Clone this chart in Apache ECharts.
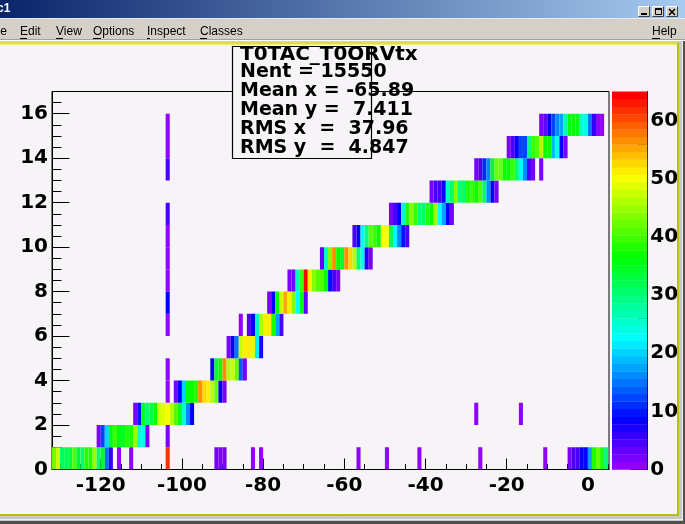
<!DOCTYPE html>
<html>
<head>
<meta charset="utf-8">
<script src="https://cdn.jsdelivr.net/npm/echarts/dist/echarts.min.js"></script>
<style>
html,body{margin:0;padding:0;background:#f7f4f7;}
#chart{width:685px;height:524px;}
</style>
</head>
<body>
<div id="chart"></div>
<script>
// ---------- DATA (bin contents, 1-unit bins) ----------
// staircase rows: first bin (x lower edge) and contents of consecutive bins
const rowStart = [-132, -121, -112, -102, -93, -89, -84, -79, -74, -66, -58, -49, -39, -28, -20, -12];
const row0  = [42, 47, 32, 32, 33, 41, 35, 31, 38, 38, 45, 31, 35, 15, 6];
const row1  = [2, 12, 20, 36, 39, 36, 34, 38, 38, 45, 25, 24, 2];
const row2  = [2, 10, 35, 31, 33, 37, 47, 49, 50, 46, 41, 35, 25, 16, 8];
const row3  = [2, 8, 20, 36, 37, 38, 57, 52, 51, 46, 42, 8, 2];
const row4  = [9, 33, 37, 56, 46, 48, 42, 13, 2];
const row5  = [2, 8, 15, 48, 51, 51, 49, 22, 7];
const row6  = [4, 9, 26, 46, 51, 51, 38, 17, 5];
const row7  = [2, 8, 36, 47, 55, 51, 44, 23, 36, 3];
const row8  = [2, 2, 27, 39, 65, 51, 43, 41, 41, 36, 10, 5, 2];
const row9  = [3, 25, 44, 57, 37, 35, 57, 52, 46, 30, 24, 7, 2];
const row10 = [4, 8, 23, 29, 41, 39, 36, 50, 50, 32, 23, 16, 10, 5];
const row11 = [2, 5, 9, 25, 38, 43, 39, 31, 31, 38, 37, 45, 23, 18, 8, 2];
const row12 = [2, 4, 5, 9, 25, 31, 43, 29, 30, 38, 39, 37, 41, 31, 16, 8, 2];
const row13 = [2, 5, 11, 16, 34, 42, 42, 37, 37, 40, 31, 23, 16, 5, 2];
const row14 = [2, 4, 8, 12, 12, 29, 40, 41, 46, 37, 37, 19, 24, 8, 2];
const row15 = [2, 3, 8, 12, 16, 17, 27, 36, 37, 36, 25, 24, 15, 6, 1, 1];
// cluster at the right end of the bottom row (x = -5 .. 4)
const row0RightStart = -5;
const row0Right = [2, 5, 5, 8, 9, 17, 38, 42, 38, 30];
// isolated bins [x, y, content]
const isolatedBins = [
  [-116, 0, 1], [-113, 0, 1], [-104, 0, 62], [-92, 0, 2], [-91, 0, 2], [-90, 0, 2],
  [-83, 0, 1], [-81, 0, 1], [-57, 0, 1], [-50, 0, 1], [-42, 0, 1], [-27, 0, 1], [-11, 0, 1],
  [-28, 2, 1], [-17, 2, 1], [-86, 6, 1], [-12, 13, 2],
  [-104, 1, 2], [-104, 3, 1], [-104, 4, 1], [-104, 6, 1], [-104, 7, 8], [-104, 8, 1],
  [-104, 9, 1], [-104, 10, 1], [-104, 11, 4], [-104, 13, 4], [-104, 14, 1], [-104, 15, 1]
];
// axis ticks / labels
const xRange = [-132, 5.2];
const yRange = [0, 17];
const xTickValues = [-120, -100, -80, -60, -40, -20, 0];
const xMinorTickValues = [-130, -125, -115, -110, -105, -95, -90, -85, -75, -70, -65, -55, -50, -45, -35, -30, -25, -15, -10, -5, 5];
const yTickValues = [0, 2, 4, 6, 8, 10, 12, 14, 16];
const yMinorTickValues = [0.5, 1, 1.5, 2.5, 3, 3.5, 4.5, 5, 5.5, 6.5, 7, 7.5, 8.5, 9, 9.5, 10.5, 11, 11.5, 12.5, 13, 13.5, 14.5, 15, 15.5, 16.5];
const zTickValues = [0, 10, 20, 30, 40, 50, 60];
const zMinorTickValues = [2, 4, 6, 8, 12, 14, 16, 18, 22, 24, 26, 28, 32, 34, 36, 38, 42, 44, 46, 48, 52, 54, 56, 58, 62, 64];
// statistics box text
const statsLines = ['T0TAC_T0ORVtx', 'Nent = 15550', 'Mean x = -65.89', 'Mean y =  7.411', 'RMS x  =  37.96', 'RMS y  =  4.847'];
const menuItems = ['File', 'Edit', 'View', 'Options', 'Inspect', 'Classes'];
const windowTitle = 'c1';

// ---------- build cells ----------
const rows = [row0, row1, row2, row3, row4, row5, row6, row7, row8, row9, row10, row11, row12, row13, row14, row15];
const cells = [];
rows.forEach((vals, y) => vals.forEach((v, i) => cells.push([rowStart[y] + i, y, v])));
row0Right.forEach((v, i) => cells.push([row0RightStart + i, 0, v]));
isolatedBins.forEach(c => cells.push(c.slice()));
const zMax = Math.max.apply(null, cells.map(c => c[2]));

// ROOT "pretty" palette: 50 colours, hue 280 -> 0
const NCOL = 50;
const PALETTE = [];
for (let i = 0; i < NCOL; i++) {
  const h = 280 - (i + 1) * (280 / NCOL);
  PALETTE.push('hsl(' + h.toFixed(1) + ',100%,50%)');
}
function colorFor(v) {
  let idx = Math.floor(0.01 + v * NCOL / zMax);
  if (idx > NCOL - 1) idx = NCOL - 1;
  if (idx < 0) idx = 0;
  return PALETTE[idx];
}
const paletteSteps = PALETTE.map((c, i) => [0, i * zMax / NCOL, (i + 1) * zMax / NCOL, i]);

// ---------- layout ----------
const BG = '#f7f4f7';
const FONT = 'DejaVu Sans';
const axisFont = {color: '#000', fontFamily: FONT, fontWeight: 'bold', fontSize: 20};
const plot = {left: 52, top: 91.5, width: 557, height: 378};
const pal = {left: 612, top: 91.5, width: 35.3, height: 378};

const chart = echarts.init(document.getElementById('chart'), null, {renderer: 'canvas'});

function txt(text, x, y, font, fill, align, z) {
  return {type: 'text', x: x, y: y, z: z || 50, silent: true,
    style: {text: text, font: font, fill: fill || '#000', align: align || 'left', verticalAlign: 'middle',
            textAlign: align || 'left', textVerticalAlign: 'middle'}};
}
function rect(x, y, w, h, fill, z, stroke) {
  return {type: 'rect', z: z || 40, silent: true, shape: {x: x, y: y, width: w, height: h},
    style: {fill: fill, stroke: stroke || null, lineWidth: 1}};
}
function line(x1, y1, x2, y2, color, z, w) {
  return {type: 'line', z: z || 45, silent: true, shape: {x1: x1, y1: y1, x2: x2, y2: y2},
    style: {stroke: color, lineWidth: w || 1}};
}

const graphics = [];
// window title bar
graphics.push({type: 'rect', z: 40, silent: true, shape: {x: 0, y: 0, width: 685, height: 18},
  style: {fill: new echarts.graphic.LinearGradient(0, 0, 1, 0, [{offset: 0, color: '#0a246a'}, {offset: 1, color: '#a6caf0'}])}});
graphics.push(txt(windowTitle, -3, 9, 'bold 12px "Liberation Sans"', '#fff', 'left', 50));
[638, 652, 666].forEach((bx, k) => {
  graphics.push(rect(bx + 0.5, 6.5, 11, 10, '#d4d0c8', 45, null));
  graphics.push(line(bx + 0.5, 6.5, bx + 11.5, 6.5, '#fff', 46));
  graphics.push(line(bx + 0.5, 6.5, bx + 0.5, 16.5, '#fff', 46));
  graphics.push(line(bx + 0.5, 16.5, bx + 11.5, 16.5, '#404040', 46));
  graphics.push(line(bx + 11.5, 6.5, bx + 11.5, 16.5, '#404040', 46));
});
graphics.push(line(641, 14, 647, 14, '#000', 47, 2));
graphics.push({type: 'rect', z: 47, silent: true, shape: {x: 655.5, y: 8.5, width: 6, height: 6}, style: {fill: 'none', stroke: '#000', lineWidth: 1}});
graphics.push(line(655.5, 9.2, 661.5, 9.2, '#000', 47, 1.5));
graphics.push(line(669, 9, 675, 15, '#000', 47, 1.6));
graphics.push(line(675, 9, 669, 15, '#000', 47, 1.6));
// menu bar
graphics.push(rect(0, 18, 685, 25, '#d4d0c8', 40));
graphics.push(line(0, 18.5, 685, 18.5, '#e8e8e8', 41));
graphics.push(line(0, 40.5, 685, 40.5, '#ffffff', 41));
graphics.push(line(0, 39.5, 685, 39.5, '#a0a0a0', 41));
const menuX = [-12.5, 20, 56, 93, 147, 200];
const menuUnder = [null, [20, 27], [56, 63], [93, 101], [147, 150], [200, 207]];
menuItems.forEach((m, i) => {
  graphics.push(txt(m, menuX[i], 32, '12px "Liberation Sans"', '#000', 'left', 50));
  if (menuUnder[i]) graphics.push(line(menuUnder[i][0], 38.5, menuUnder[i][1], 38.5, '#000', 50));
});
graphics.push(txt('Help', 652, 32, '12px "Liberation Sans"', '#000', 'left', 50));
graphics.push(line(652, 38.5, 660, 38.5, '#000', 50));
// canvas borders
graphics.push(rect(0, 42.5, 679, 2, '#e6e600', 41));
graphics.push(rect(677, 42.5, 2, 473, '#bdbd1a', 41));
graphics.push(rect(0, 514, 679, 2, '#bdbd1a', 41));
graphics.push(rect(679, 40, 6, 484, '#c8c8c8', 40));
graphics.push(rect(0, 516, 685, 8, '#c8c8c8', 40));
graphics.push(line(0, 519.5, 683, 519.5, '#f0f0f0', 41));
graphics.push(line(682.5, 41, 682.5, 520, '#f0f0f0', 41));
graphics.push(rect(0, 521, 685, 3, '#505050', 41));
graphics.push(rect(683, 41, 2, 483, '#505050', 41));
// statistics box
graphics.push({type: 'rect', z: 60, silent: true, shape: {x: 232.5, y: 46.5, width: 139, height: 112},
  style: {fill: BG, stroke: '#000', lineWidth: 1.2}});
const statY = [55, 72.5, 91, 110, 129, 148];
statsLines.forEach((s, i) => {
  graphics.push(txt(s, 240, statY[i], (i === 0 ? 'bold 20px ' : 'bold 19px ') + '"' + FONT + '"', '#000', 'left', 70));
});

const option = {
  animation: false,
  backgroundColor: BG,
  grid: [
    Object.assign({show: true, borderColor: '#000', borderWidth: 1, backgroundColor: 'transparent', containLabel: false}, plot),
    Object.assign({show: false, containLabel: false}, pal)
  ],
  xAxis: [
    {gridIndex: 0, type: 'value', min: xRange[0], max: xRange[1], position: 'bottom',
     axisLine: {show: true, onZero: false, lineStyle: {color: '#000', width: 1}},
     axisTick: {show: true, inside: true, length: 11, customValues: xTickValues, lineStyle: {color: '#000', width: 1}},
     axisLabel: Object.assign({show: true, margin: 6, customValues: xTickValues}, axisFont),
     splitLine: {show: false}},
    {gridIndex: 0, type: 'value', min: xRange[0], max: xRange[1], position: 'bottom',
     axisLine: {show: false, onZero: false},
     axisTick: {show: true, inside: true, length: 5.5, customValues: xMinorTickValues, lineStyle: {color: '#000', width: 1}},
     axisLabel: {show: false}, splitLine: {show: false}},
    {gridIndex: 1, type: 'value', min: 0, max: 1, show: false}
  ],
  yAxis: [
    {gridIndex: 0, type: 'value', min: yRange[0], max: yRange[1], position: 'left',
     axisLine: {show: true, onZero: false, lineStyle: {color: '#000', width: 1}},
     axisTick: {show: true, inside: true, length: 17.5, customValues: yTickValues, lineStyle: {color: '#000', width: 1}},
     axisLabel: Object.assign({show: true, margin: 4, customValues: yTickValues}, axisFont),
     splitLine: {show: false}},
    {gridIndex: 0, type: 'value', min: yRange[0], max: yRange[1], position: 'left',
     axisLine: {show: false, onZero: false},
     axisTick: {show: true, inside: true, length: 9.5, customValues: yMinorTickValues, lineStyle: {color: '#000', width: 1}},
     axisLabel: {show: false}, splitLine: {show: false}},
    {gridIndex: 1, type: 'value', min: 0, max: zMax, position: 'right',
     axisLine: {show: true, onZero: false, lineStyle: {color: '#000', width: 1}},
     axisTick: {show: true, inside: true, length: 17, customValues: zTickValues, lineStyle: {color: '#000', width: 1}},
     axisLabel: Object.assign({show: true, margin: 3, customValues: zTickValues}, axisFont),
     splitLine: {show: false}},
    {gridIndex: 1, type: 'value', min: 0, max: zMax, position: 'right',
     axisLine: {show: false, onZero: false},
     axisTick: {show: true, inside: true, length: 9, customValues: zMinorTickValues, lineStyle: {color: '#000', width: 1}},
     axisLabel: {show: false}, splitLine: {show: false}}
  ],
  series: [
    {type: 'custom', xAxisIndex: 0, yAxisIndex: 0, data: cells, silent: true, clip: true, z: 2,
     encode: {x: 0, y: 1},
     renderItem: function (params, api) {
       const x = api.value(0), y = api.value(1), v = api.value(2);
       const p0 = api.coord([x, y + 1]);
       const p1 = api.coord([x + 1, y]);
       return {type: 'rect', shape: {x: p0[0], y: p0[1], width: p1[0] - p0[0], height: p1[1] - p0[1]},
               style: {fill: colorFor(v), stroke: null}};
     }},
    {type: 'custom', xAxisIndex: 2, yAxisIndex: 2, data: paletteSteps, silent: true, z: 1,
     encode: {x: 0, y: 1},
     renderItem: function (params, api) {
       const lo = api.value(1), hi = api.value(2), i = api.value(3);
       const p0 = api.coord([0, hi]);
       const p1 = api.coord([1, lo]);
       return {type: 'rect', shape: {x: p0[0], y: p0[1], width: p1[0] - p0[0], height: p1[1] - p0[1] + 0.3},
               style: {fill: PALETTE[i], stroke: null}};
     }}
  ],
  graphic: {elements: graphics}
};
chart.setOption(option);
</script>
</body>
</html>
